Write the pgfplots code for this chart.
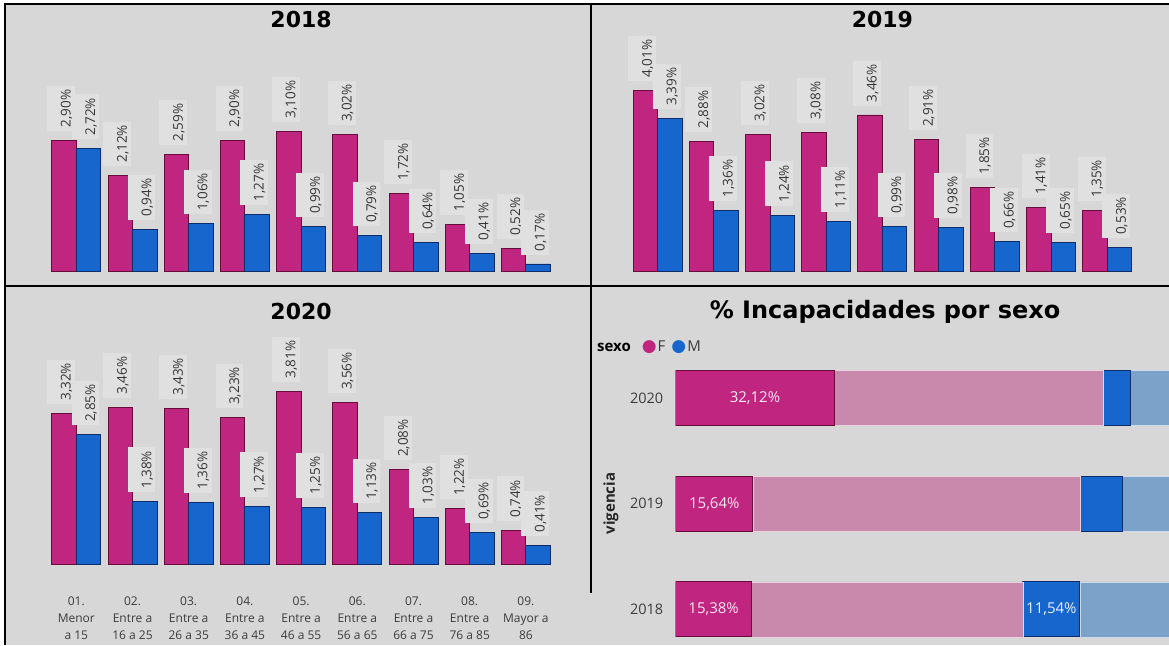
\documentclass[border=0pt]{standalone}
\usepackage{pgfplots}
\pgfplotsset{compat=1.18}
\usepackage{fontspec}
\setmainfont{Open Sans}
\newfontfamily\dejavu{DejaVu Sans}
\definecolor{Fc}{RGB}{192,37,127}
\definecolor{Fd}{RGB}{105,12,60}
\definecolor{Mc}{RGB}{22,102,206}
\definecolor{Md}{RGB}{12,45,105}
\definecolor{Fl}{RGB}{200,137,173}
\definecolor{Ml}{RGB}{124,162,202}
\definecolor{bg}{RGB}{215,215,215}
\definecolor{labbg}{RGB}{224,224,224}
\definecolor{labtext}{RGB}{55,55,55}
\definecolor{ticktext}{RGB}{60,60,60}

\pgfplotsset{
  barpanel/.style={
    scale only axis, width=505.8pt, height=226.5pt, anchor=south west,
    xmin=0.5, xmax=9.5, ymin=0, ymax=5, clip=false,
    axis line style={draw=none}, major tick length=0pt,
    ytick=\empty, xtick={1,...,9},
    ybar=0pt, bar width=24.5pt,
    title style={font=\dejavu\bfseries\fontsize{22}{26}\selectfont, at={(0.5,1)}, anchor=center, yshift=20pt},
    nodes near coords={\pgfmathprintnumber[fixed,fixed zerofill,precision=2,use comma,assume math mode=true]{\pgfplotspointmeta}\%},
    every node near coord/.append style={font=\fontsize{13.5}{14}\selectfont, text=labtext, fill=labbg, xshift=6.5pt, yshift=9pt, rotate=90, anchor=base west, inner xsep=3.5pt, inner ysep=2.5pt, text height=21pt},
  },
  Fbar/.style={fill=Fc, draw=Fd, line width=0.9pt},
  Mbar/.style={fill=Mc, draw=Md, line width=0.9pt},
  hbarpanel/.style={
    at={(675.7pt,4.05pt)}, anchor=south west, scale only axis,
    width=493.3pt, height=295.4pt,
    xmin=0, xmax=100, ymin=-0.3, ymax=2.5,
  },
}

\begin{document}
\begin{tikzpicture}
\fill[white] (0pt,0pt) rectangle (1169pt,645pt);
\useasboundingbox (0pt,0pt) rectangle (1169pt,645pt);
\fill[bg] (5pt,0pt) rectangle (1169pt,641pt);

% ---------- 2018 ----------
\begin{axis}[barpanel, at={(48.2pt,373.3pt)}, title={2018}, xtick=\empty]
\addplot[Fbar] coordinates {(1,2.90) (2,2.12) (3,2.59) (4,2.90) (5,3.10) (6,3.02) (7,1.72) (8,1.05) (9,0.52)};
\addplot[Mbar] coordinates {(1,2.72) (2,0.94) (3,1.06) (4,1.27) (5,0.99) (6,0.79) (7,0.64) (8,0.41) (9,0.17)};
\end{axis}

% ---------- 2019 ----------
\begin{axis}[barpanel, at={(629.5pt,373.3pt)}, title={2019}, xtick=\empty]
\addplot[Fbar] coordinates {(1,4.01) (2,2.88) (3,3.02) (4,3.08) (5,3.46) (6,2.91) (7,1.85) (8,1.41) (9,1.35)};
\addplot[Mbar] coordinates {(1,3.39) (2,1.36) (3,1.24) (4,1.11) (5,0.99) (6,0.98) (7,0.66) (8,0.65) (9,0.53)};
\end{axis}

% ---------- 2020 ----------
\begin{axis}[barpanel, at={(48.2pt,81pt)}, title={2020},
  xticklabels={{01.\\Menor\\a 15},{02.\\Entre a\\16 a 25},{03.\\Entre a\\26 a 35},{04.\\Entre a\\36 a 45},{05.\\Entre a\\46 a 55},{06.\\Entre a\\56 a 65},{07.\\Entre a\\66 a 75},{08.\\Entre a\\76 a 85},{09.\\Mayor a\\86}},
  xticklabel style={font=\fontsize{12}{17}\selectfont, text=ticktext, align=center, anchor=north, yshift=-29pt}]
\addplot[Fbar] coordinates {(1,3.32) (2,3.46) (3,3.43) (4,3.23) (5,3.81) (6,3.56) (7,2.08) (8,1.22) (9,0.74)};
\addplot[Mbar] coordinates {(1,2.85) (2,1.38) (3,1.36) (4,1.27) (5,1.25) (6,1.13) (7,1.03) (8,0.69) (9,0.41)};
\end{axis}

% ---------- % Incapacidades por sexo ----------
\begin{axis}[hbarpanel,
  xbar stacked, bar width=55pt,
  axis line style={draw=none}, major tick length=0pt,
  xtick=\empty, ytick={0,1,2}, yticklabels={2018,2019,2020},
  yticklabel style={font=\fontsize{14.5}{17}\selectfont, text=ticktext, xshift=-9pt},
  ylabel={vigencia},
  ylabel style={font=\bfseries\fontsize{15}{18}\selectfont, text=black!85, at={(axis description cs:-0.1312,0.4653)}, anchor=center},
  title={\% Incapacidades por sexo},
  title style={font=\dejavu\bfseries\fontsize{24}{28}\selectfont, at={(axis description cs:0.4243,1.0933)}, anchor=center},
]
\addplot[fill=Fc, draw=Fd, line width=0.9pt] coordinates {(15.38,0) (15.64,1) (32.12,2)};
\addplot[fill=Fl, draw=white!60!Fl, line width=0.6pt] coordinates {(55.0,0) (66.4,1) (54.5,2)};
\addplot[fill=Mc, draw=Md, line width=0.9pt] coordinates {(11.54,0) (8.5,1) (5.6,2)};
\addplot[fill=Ml, draw=white!60!Ml, line width=0.6pt] coordinates {(18.08,0) (9.46,1) (7.78,2)};
\end{axis}
% value labels, centred in their segments
\begin{axis}[hbarpanel, hide axis]
\addplot[draw=none, mark=none, point meta=explicit symbolic, nodes near coords,
  every node near coord/.append style={anchor=center, font=\fontsize{15}{18}\selectfont, text=white!90!Fc}]
  coordinates {(7.69,0) [15,38\%] (7.82,1) [15,64\%] (16.06,2) [32,12\%]};
\addplot[draw=none, mark=none, point meta=explicit symbolic, nodes near coords,
  every node near coord/.append style={anchor=center, font=\fontsize{15}{18}\selectfont, text=white!90!Mc}]
  coordinates {(76.15,0) [11,54\%]};
\end{axis}

\node[anchor=west, inner sep=0pt] at (597pt,298pt) {\fontsize{15}{18}\selectfont{\bfseries sexo}\hspace{11pt}{\dejavu\fontsize{17}{18}\selectfont\color{Fc}●}\hspace{1pt}{\color{ticktext}F}\hspace{6pt}{\dejavu\fontsize{17}{18}\selectfont\color{Mc}●}\hspace{1pt}{\color{ticktext}M}};

% frame lines
\draw[black, line width=2pt] (5pt,640.5pt) -- (1169pt,640.5pt);
\draw[black, line width=2pt] (5pt,0pt) -- (5pt,641.5pt);
\draw[black, line width=2pt] (5pt,359pt) -- (1169pt,359pt);
\draw[black, line width=2pt] (591pt,640.5pt) -- (591pt,52pt);
\end{tikzpicture}
\end{document}
